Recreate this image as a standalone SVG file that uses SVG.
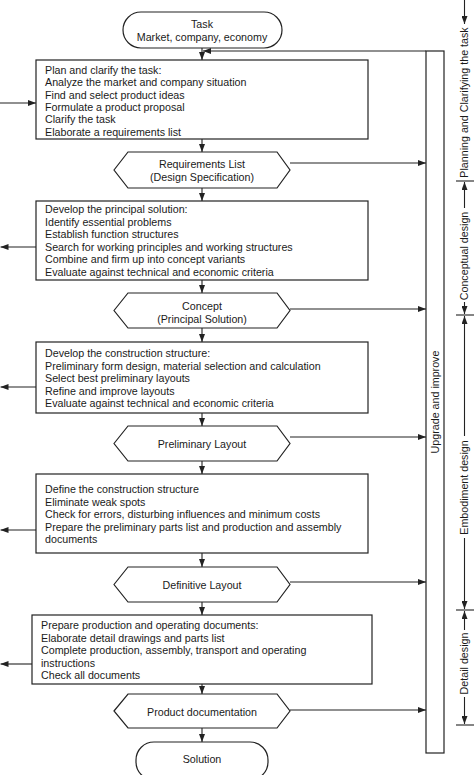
<svg xmlns="http://www.w3.org/2000/svg" width="474" height="775" viewBox="0 0 474 775">
<defs>
<marker id="ah" viewBox="0 0 8 6" refX="8" refY="3" markerWidth="8" markerHeight="6" markerUnits="userSpaceOnUse" orient="auto">
<path d="M0,0 L8,3 L0,6 z" fill="#222"/>
</marker>
</defs>
<style>
text{font-family:"Liberation Sans",Arial,sans-serif;font-size:10.7px;fill:#1a1a1a}
.c{text-anchor:middle}
.n{fill:#fff;stroke:#222;stroke-width:1.2}
.l{fill:none;stroke:#222;stroke-width:1.1}
.a{fill:none;stroke:#222;stroke-width:1.1;marker-end:url(#ah)}
</style>
<rect width="474" height="775" fill="#fff"/>
<g id="connectors">
<path class="a" d="M202,48 V60"/>
<path class="a" d="M426,51 H203"/>
<path class="a" d="M0,103 H36"/>
<path class="a" d="M202,139 V152"/>
<path class="a" d="M290,163 H426"/>
<path class="a" d="M202,188 V201"/>
<path class="a" d="M36,247 H0.5"/>
<path class="a" d="M202,280 V293"/>
<path class="a" d="M290,309 H426"/>
<path class="a" d="M202,328 V342"/>
<path class="a" d="M36,387 H0.5"/>
<path class="a" d="M202,413 V426"/>
<path class="a" d="M290,437 H426"/>
<path class="a" d="M202,461 V474"/>
<path class="a" d="M36,530 H0.5"/>
<path class="a" d="M202,553 V567"/>
<path class="a" d="M290,582 H426"/>
<path class="a" d="M202,602 V615"/>
<path class="a" d="M32,664 H0.5"/>
<path class="a" d="M202,684 V694"/>
<path class="a" d="M290,710 H426"/>
<path class="a" d="M202,728 V742"/>
</g>
<g id="task"><rect class="n" x="123" y="12" width="159" height="36" rx="18"/><text class="c" x="202" y="28">Task</text><text class="c" x="202" y="41">Market, company, economy</text></g>
<g id="plan"><rect class="n" x="36" y="60" width="332" height="79"/>
<text x="45" y="73.8">Plan and clarify the task:</text>
<text x="45" y="86.2">Analyze the market and company situation</text>
<text x="45" y="98.6">Find and select product ideas</text>
<text x="45" y="111">Formulate a product proposal</text>
<text x="45" y="123.4">Clarify the task</text>
<text x="45" y="135.8">Elaborate a requirements list</text></g>
<g id="requirements"><polygon class="n" points="114,170 128,152 277,152 290,170 277,188 128,188"/><text class="c" x="202" y="168">Requirements List</text><text class="c" x="202" y="181">(Design Specification)</text></g>
<g id="principal"><rect class="n" x="36" y="201" width="332" height="79"/>
<text x="45" y="213">Develop the principal solution:</text>
<text x="45" y="225.5">Identify essential problems</text>
<text x="45" y="238">Establish function structures</text>
<text x="45" y="250.5">Search for working principles and working structures</text>
<text x="45" y="263">Combine and firm up into concept variants</text>
<text x="45" y="275.5">Evaluate against technical and economic criteria</text></g>
<g id="concept"><polygon class="n" points="114,310.5 128,293 277,293 290,310.5 277,328 128,328"/><text class="c" x="202" y="310">Concept</text><text class="c" x="202" y="322.5">(Principal Solution)</text></g>
<g id="construction"><rect class="n" x="36" y="342" width="332" height="71"/>
<text x="45" y="357">Develop the construction structure:</text>
<text x="45" y="369.5">Preliminary form design, material selection and calculation</text>
<text x="45" y="382">Select best preliminary layouts</text>
<text x="45" y="394.5">Refine and improve layouts</text>
<text x="45" y="407">Evaluate against technical and economic criteria</text></g>
<g id="preliminary"><polygon class="n" points="114,443.5 128,426 277,426 290,443.5 277,461 128,461"/><text class="c" x="202" y="448">Preliminary Layout</text></g>
<g id="define"><rect class="n" x="36" y="474" width="332" height="79"/>
<text x="45" y="493">Define the construction structure</text>
<text x="45" y="505.5">Eliminate weak spots</text>
<text x="45" y="518">Check for errors, disturbing influences and minimum costs</text>
<text x="45" y="530.5">Prepare the preliminary parts list and production and assembly</text>
<text x="45" y="543">documents</text></g>
<g id="definitive"><polygon class="n" points="114,584.5 128,567 277,567 290,584.5 277,602 128,602"/><text class="c" x="202" y="589">Definitive Layout</text></g>
<g id="production"><rect class="n" x="32" y="615" width="340" height="69"/>
<text x="41" y="629">Prepare production and operating documents:</text>
<text x="41" y="641.5">Elaborate detail drawings and parts list</text>
<text x="41" y="654">Complete production, assembly, transport and operating</text>
<text x="41" y="666.5">instructions</text>
<text x="41" y="679">Check all documents</text></g>
<g id="documentation"><polygon class="n" points="114,711 128,694 277,694 290,711 277,728 128,728"/><text class="c" x="202" y="716">Product documentation</text></g>
<g id="solution"><rect class="n" x="136" y="742" width="132" height="38" rx="18"/><text class="c" x="202" y="763">Solution</text></g>
<g id="upgrade"><rect class="n" x="426" y="51" width="18" height="702"/><text class="c" transform="translate(435,402) rotate(-90)" y="3.8">Upgrade and improve</text></g>
<g id="phases">
<path class="a" d="M464.5,0 V24"/>
<text class="c" transform="translate(464.5,102.5) rotate(-90)" y="3.8">Planning and Clarifying the task</text>
<path class="l" d="M456,181 H474"/>
<path class="a" d="M464.5,208 V182"/>
<text class="c" transform="translate(464.5,256) rotate(-90)" y="3.8">Conceptual design</text>
<path class="a" d="M464.5,302 V314"/>
<path class="l" d="M456,315 H474"/>
<path class="a" d="M464.5,436 V316"/>
<text class="c" transform="translate(464.5,487.5) rotate(-90)" y="3.8">Embodiment design</text>
<path class="a" d="M464.5,538 V609"/>
<path class="l" d="M456,610 H474"/>
<path class="a" d="M464.5,630 V611"/>
<text class="c" transform="translate(464.5,663.5) rotate(-90)" y="3.8">Detail design</text>
<path class="a" d="M464.5,697 V724"/>
<path class="l" d="M456,725 H474"/>
</g>
</svg>
